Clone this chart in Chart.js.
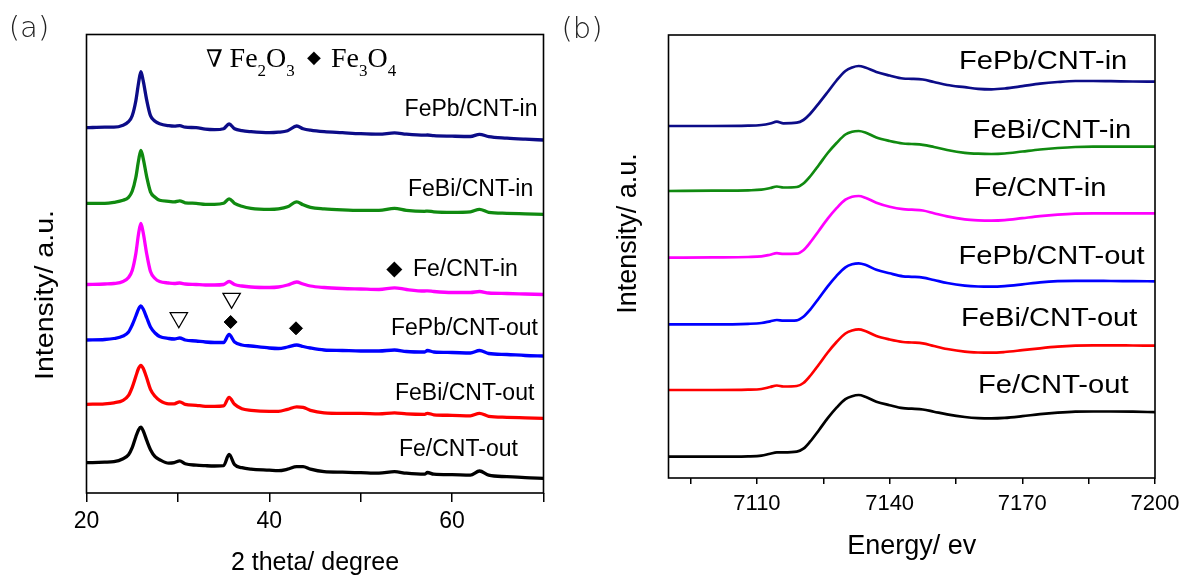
<!DOCTYPE html>
<html>
<head>
<meta charset="utf-8">
<script src="https://cdn.jsdelivr.net/npm/chart.js@4.4.1/dist/chart.umd.min.js"></script>
<style>
  html, body { margin: 0; padding: 0; background: #fff; }
  body { width: 1187px; height: 579px; position: relative; overflow: hidden; }
  canvas { position: absolute; top: 0; }
  #xrd { left: 0; }
  #xanes { left: 550px; }
</style>
</head>
<body>
<canvas id="xrd" width="550" height="579"></canvas>
<canvas id="xanes" width="637" height="579"></canvas>
<script>
// sample names, top to bottom
const sampleNames = ['FePb/CNT-in', 'FeBi/CNT-in', 'Fe/CNT-in', 'FePb/CNT-out', 'FeBi/CNT-out', 'Fe/CNT-out'];

// (a) XRD, 2 theta in degree, intensity in a.u. relative to each trace's start
const theta = [20, 22, 23, 24, 24.6, 25.0, 25.4, 25.7, 25.95, 26.2, 26.6, 27.0, 27.5, 28, 29, 29.6,
  30.2, 30.8, 32, 33, 34, 35, 35.6, 36.2, 37, 38, 40, 41, 42, 43.0, 43.7, 44.5, 46, 48, 50, 52,
  53.7, 55, 57, 57.3, 58, 60, 62, 63, 64, 66, 68, 70];
const xrdFePbIn = [0, 0.5, 0.5, 2.5, 6, 12, 27, 45, 56, 47, 27, 12, 6.5, 4, 2, 1.5,
  2, 0.5, 0, -1.5, -2, -1, 3.7, -1, -3, -4, -5, -4.5, -3, 1.7, -1, -2.5, -4, -5, -6, -6.5,
  -5.2, -6.5, -7.5, -7.3, -8, -8.5, -8.8, -6.6, -9, -10.5, -11.5, -12.3];
const xrdFeBiIn = [0, 0, 1, 3, 6, 12, 26, 43, 53, 45, 26, 11.5, 6, 3, 2, 1.5,
  2.5, 0.5, 0, -1, -1, 0, 4.5, 0, -3, -5, -6, -5.5, -3.5, 1.5, -1.5, -4, -5.5, -6.5, -7, -7,
  -5, -7, -8, -7.8, -8.5, -9, -8.5, -6, -9, -10, -10.5, -11];
const xrdFeIn = [0, 0.5, 1, 3, 7, 14, 31, 51, 61, 52, 30, 13, 6, 3, 1.5, 1,
  1.5, 0.5, 0, -0.5, -0.5, 0, 3, 0, -1.5, -2.5, -3, -2.5, -0.5, 2.5, 0.5, -1.5, -3, -4, -4.5, -5,
  -3.3, -5, -6.5, -6.3, -7, -8, -8, -7, -8.5, -9, -9.5, -10];
const xrdFePbOut = [0, 0.5, 1.5, 4, 8, 15, 24, 31, 34, 31, 22, 13, 7, 3.5, 1.5, 1,
  2, 0, -1, -2, -2.5, -2.5, 5.5, -2, -5, -6, -8, -8.5, -7, -5, -6.5, -8, -10, -10.5, -11, -11,
  -10, -11.5, -12, -10.5, -12, -12.5, -13, -10.5, -13.5, -14.5, -15.5, -16];
const xrdFeBiOut = [0, 0.5, 1.5, 4, 9, 17, 28, 36, 39, 36, 26, 15, 8, 4, 0.5, 0.5,
  2.5, 0, -1, -2, -2, -1.5, 7, 0, -4.5, -6, -7, -7, -5, -2.5, -3, -6, -8.5, -9, -9, -9.5,
  -8.5, -9.5, -10, -9, -10.5, -11, -11.5, -9, -12, -13, -13.5, -14];
const xrdFeOut = [0, 0.5, 1, 4, 8, 15, 26, 33, 35.5, 32, 22, 13, 6, 3, -0.5, 0,
  1.8, -1, -2.5, -3, -3.3, -3, 8.3, -2, -5, -6.5, -7.5, -8, -6.5, -4, -4, -6.5, -9, -9.5, -10, -10.5,
  -9, -10.5, -11.5, -9.8, -11.5, -12, -12.5, -8.3, -12.5, -14, -15, -15.6];
const xrdOffsets = [365.3, 289.7, 208.5, 153, 88.7, 30.3];
const thetaTicks = [20, 30, 40, 50, 60, 70];
const thetaLabels = [20, 40, 60];

// phase marks on the FePb/CNT-out trace
const fe2o3Theta = [30.1, 35.88];
const fe2o3Y = [175.3, 194.7];
const fe3o4Theta = [35.77, 42.92];
const fe3o4Y = [171, 164.7];

// (b) XANES, energy in eV
const energy = [7090, 7100, 7108, 7111, 7113, 7114.5, 7116, 7119, 7120.5, 7122, 7124, 7126, 7128, 7130,
  7131.5, 7133, 7134.5, 7137, 7140, 7143, 7145, 7147.5, 7150, 7153, 7157, 7160, 7163, 7166, 7170,
  7174, 7178, 7182, 7186, 7190, 7195, 7200];
const xanesFePbIn = [0, 0, 0.3, 1, 2.5, 4.3, 2.7, 3.3, 6, 12, 22.7, 34, 45.5, 55,
  58.5, 60, 58.5, 54, 50.5, 47.5, 47.2, 46.5, 44, 41, 38.8, 37.2, 36.7, 37.5, 39.8,
  42.3, 44, 45, 45, 44.8, 44.5, 44.3];
const xanesFeBiIn = [0, 0.3, 0.7, 1.3, 3, 4.5, 3.5, 4, 7.5, 14.5, 26, 38, 48, 56.5,
  59.3, 60, 58.5, 53.5, 50, 47.5, 47, 46.2, 44, 41, 38.2, 37.3, 37, 37.5, 39.5,
  41.5, 43, 44, 44.3, 44.3, 44.3, 44.3];
const xanesFeIn = [0, 0.3, 0.7, 1.3, 3, 4.5, 3.8, 4, 7.5, 15, 27, 39, 49.5, 58,
  61, 61.7, 60, 55, 51, 48.5, 48, 47.2, 44.5, 41.3, 38.3, 37.3, 37, 37.5, 39.5,
  41.5, 43, 44, 44.4, 44.4, 44.4, 44.4];
const xanesFePbOut = [0, 0, 0.5, 1.3, 3, 4.3, 3.7, 4, 7.5, 14.5, 26, 38, 48.5, 57,
  60, 61, 59.5, 54.5, 51, 48, 47.5, 46.7, 44.3, 41.3, 38.7, 37.8, 37.6, 38.2, 40,
  42, 43.2, 43.5, 43.5, 43.3, 43.2, 43];
const xanesFeBiOut = [0, 0, 0.3, 1, 3, 4.5, 3.5, 4, 7, 14, 25.5, 37.5, 48, 56.5,
  59.5, 60.7, 59, 54, 50.5, 48, 47.5, 46.7, 44, 41, 38.3, 37.5, 37.3, 38, 39.8,
  41.7, 43.3, 44.3, 44.7, 44.7, 44.5, 44.3];
const xanesFeOut = [0, 0, 0.3, 1, 3, 4.3, 4.3, 5, 8, 15, 26.5, 38.5, 49, 57.5,
  60.5, 61.7, 60, 55, 51.5, 48.5, 48, 47.2, 45, 42.3, 39.7, 38.6, 38.3, 38.8, 40.5,
  42.5, 44, 45, 45.2, 45.2, 45, 44.5];
const xanesOffsets = [352, 287, 220.3, 153.7, 88, 21.3];
const energyTicks = [7095, 7110, 7125, 7140, 7155, 7170, 7185, 7200];
const energyLabels = [7110, 7140, 7170, 7200];

const xrdSeries = [xrdFePbIn, xrdFeBiIn, xrdFeIn, xrdFePbOut, xrdFeBiOut, xrdFeOut];
const xanesSeries = [xanesFePbIn, xanesFeBiIn, xanesFeIn, xanesFePbOut, xanesFeBiOut, xanesFeOut];

// ---- style ----
const colors = ['#0c0c88', '#108a10', '#ff00ff', '#0000ff', '#ff0000', '#000000'];
const SANS = '"Liberation Sans", Arial, sans-serif';
const SERIF = '"Liberation Serif", "Times New Roman", serif';
Chart.defaults.font.family = SANS;
Chart.defaults.color = '#000';

// label places: [left x, middle y] in canvas pixels
const xrdLabelPos = [[404.6, 110], [408, 190], [413, 270], [391, 329], [395, 394], [399, 450]];
const xanesLabelPos = [[409, 61.7], [422.6, 131], [423.7, 189.3], [408.5, 256.7], [411, 319.3], [428, 386]];

const frame = {
  id: 'frame',
  afterDraw(chart) {
    const { ctx, chartArea: a } = chart;
    ctx.save();
    ctx.strokeStyle = '#000';
    ctx.lineWidth = 1.6;
    ctx.strokeRect(a.left, a.top, a.right - a.left, a.bottom - a.top);
    ctx.restore();
  }
};

function vtext(ctx, txt, x, y, font, stretch) {
  ctx.save();
  ctx.translate(x, y);
  ctx.rotate(-Math.PI / 2);
  ctx.scale(stretch, 1);
  ctx.font = font;
  ctx.textAlign = 'center';
  ctx.textBaseline = 'middle';
  ctx.fillText(txt, 0, 0);
  ctx.restore();
}

function chem(ctx, parts, x, y) {
  for (const [t, sub] of parts) {
    ctx.font = sub ? '17px ' + SERIF : '28px ' + SERIF;
    ctx.fillText(t, x, sub ? y + 9.3 : y);
    x += ctx.measureText(t).width;
  }
}

const xrdNotes = {
  id: 'xrdNotes',
  afterDraw(chart) {
    const ctx = chart.ctx;
    ctx.save();
    ctx.fillStyle = '#000';
    ctx.textBaseline = 'middle';
    ctx.textAlign = 'left';
    ctx.font = '23px ' + SANS;
    sampleNames.forEach((n, i) => ctx.fillText(n, xrdLabelPos[i][0], xrdLabelPos[i][1]));
    ctx.textAlign = 'center';
    ctx.font = '21px "DejaVu Sans", sans-serif';
    ctx.fillText('\u25C6', 394.4, 270);
    // phase legend
    ctx.font = '24px "DejaVu Serif", serif';
    ctx.textBaseline = 'alphabetic';
    ctx.fillText('\u2207', 214.5, 66.7);
    ctx.font = '18px "DejaVu Sans", sans-serif';
    ctx.textBaseline = 'middle';
    ctx.fillText('\u25C6', 314, 58);
    ctx.textAlign = 'left';
    ctx.textBaseline = 'alphabetic';
    chem(ctx, [['Fe', 0], ['2', 1], ['O', 0], ['3', 1]], 229.6, 66.7);
    chem(ctx, [['Fe', 0], ['3', 1], ['O', 0], ['4', 1]], 331, 66.7);
    // panel letter and y title
    ctx.textAlign = 'center';
    ctx.textBaseline = 'middle';
    ctx.font = '300 29px "DejaVu Sans", sans-serif';
    ctx.fillStyle = '#222';
    ctx.fillText('(a)', 29, 29);
    ctx.fillStyle = '#000';
    vtext(ctx, 'Intensity/ a.u.', 45.8, 295, '26px ' + SANS, 1.1);
    ctx.restore();
  }
};

const xanesNotes = {
  id: 'xanesNotes',
  afterDraw(chart) {
    const ctx = chart.ctx;
    ctx.save();
    ctx.fillStyle = '#000';
    ctx.textBaseline = 'middle';
    ctx.textAlign = 'left';
    ctx.font = '26px ' + SANS;
    sampleNames.forEach((n, i) => {
      ctx.save();
      ctx.translate(xanesLabelPos[i][0], xanesLabelPos[i][1]);
      ctx.scale(1.12, 1);
      ctx.fillText(n, 0, 0);
      ctx.restore();
    });
    ctx.textAlign = 'center';
    ctx.font = '300 29px "DejaVu Sans", sans-serif';
    ctx.fillStyle = '#222';
    ctx.fillText('(b)', 32, 30);
    ctx.fillStyle = '#000';
    vtext(ctx, 'Intensity/ a.u.', 78.3, 233.5, '27px ' + SANS, 1);
    ctx.restore();
  }
};

// ---- (a) ----
const xrdSets = xrdSeries.map((s, i) => ({
  data: theta.map((t, j) => ({ x: t, y: s[j] + xrdOffsets[i] })),
  borderColor: colors[i],
  borderWidth: 3.3,
  pointRadius: 0,
  cubicInterpolationMode: 'monotone',
  order: 2
}));
xrdSets.push({
  type: 'scatter',
  data: fe2o3Theta.map((t, j) => ({ x: t, y: fe2o3Y[j] })),
  pointStyle: 'triangle', rotation: 180, pointRadius: 10,
  backgroundColor: '#fff', borderColor: '#000', borderWidth: 1.3, order: 1
});
xrdSets.push({
  type: 'scatter',
  data: fe3o4Theta.map((t, j) => ({ x: t, y: fe3o4Y[j] })),
  pointStyle: 'rectRot', pointRadius: 6.5,
  backgroundColor: '#000', borderColor: '#000', borderWidth: 1, order: 0
});

new Chart(document.getElementById('xrd'), {
  type: 'line',
  data: { datasets: xrdSets },
  plugins: [frame, xrdNotes],
  options: {
    responsive: false,
    animation: false,
    layout: { autoPadding: false, padding: { left: 86.5, right: 6.5, top: 34.5, bottom: 0 } },
    plugins: { legend: { display: false }, tooltip: { enabled: false } },
    scales: {
      x: {
        type: 'linear', min: 20, max: 70,
        afterBuildTicks: s => { s.ticks = thetaTicks.map(v => ({ value: v })); },
        afterFit: s => { s.height = 86; },
        ticks: {
          autoSkip: false, maxRotation: 0, padding: 6,
          font: { size: 23 },
          callback: v => thetaLabels.includes(v) ? String(v) : ''
        },
        grid: { drawOnChartArea: false, tickLength: 9, color: '#000', lineWidth: 1.5 },
        border: { display: false },
        title: { display: true, text: '2 theta/ degree', font: { size: 25 }, padding: { top: 0, bottom: 1 } }
      },
      y: { display: false, min: 0, max: 458.5 }
    }
  }
});

// ---- (b) ----
const xanesSets = xanesSeries.map((s, i) => ({
  data: energy.map((e, j) => ({ x: e, y: s[j] + xanesOffsets[i] })),
  borderColor: colors[i],
  borderWidth: 2.7,
  pointRadius: 0,
  cubicInterpolationMode: 'monotone'
}));

new Chart(document.getElementById('xanes'), {
  type: 'line',
  data: { datasets: xanesSets },
  plugins: [frame, xanesNotes],
  options: {
    responsive: false,
    animation: false,
    layout: { autoPadding: false, padding: { left: 118.5, right: 32, top: 35, bottom: 0 } },
    plugins: { legend: { display: false }, tooltip: { enabled: false } },
    scales: {
      x: {
        type: 'linear', min: 7090, max: 7200,
        afterBuildTicks: s => { s.ticks = energyTicks.map(v => ({ value: v })); },
        afterFit: s => { s.height = 101; },
        ticks: {
          autoSkip: false, maxRotation: 0, padding: 7,
          font: { size: 22 },
          callback: v => energyLabels.includes(v) ? String(v) : ''
        },
        grid: { drawOnChartArea: false, tickLength: 6, color: '#000', lineWidth: 1.5 },
        border: { display: false },
        title: { display: true, text: 'Energy/ ev', font: { size: 27 }, padding: { top: 0, bottom: 16 } }
      },
      y: { display: false, min: 0, max: 443 }
    }
  }
});
</script>
</body>
</html>
